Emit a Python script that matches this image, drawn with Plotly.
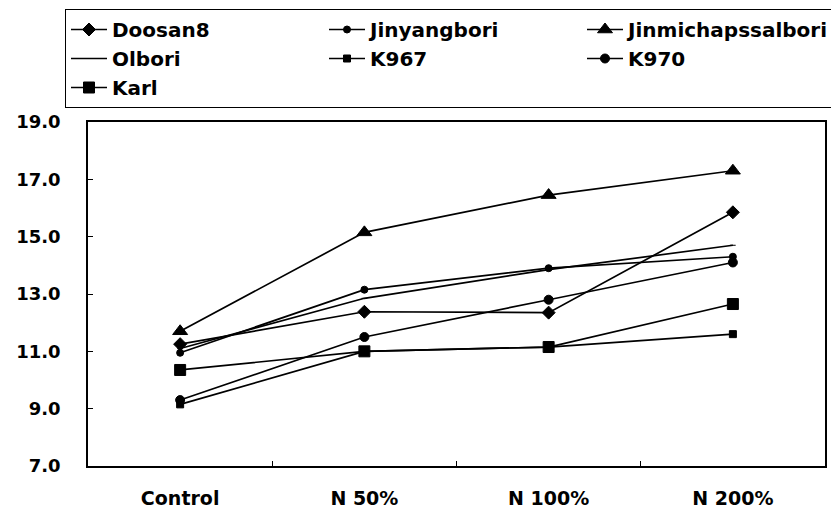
import plotly.graph_objects as go

categories = ["Control", "N 50%", "N 100%", "N 200%"]
doosan8 = [11.25, 12.38, 12.35, 15.85]
jinyangbori = [10.95, 13.15, 13.9, 14.3]
jinmichapssalbori = [11.7, 15.15, 16.45, 17.3]
olbori = [11.1, 12.85, 13.85, 14.7]
k967 = [9.15, 11.0, 11.15, 11.6]
k970 = [9.3, 11.5, 12.8, 14.1]
karl = [10.35, 11.0, 11.15, 12.65]

series = [
    ("Doosan8", doosan8, "diamond", 10),
    ("Jinyangbori", jinyangbori, "circle", 7),
    ("Jinmichapssalbori", jinmichapssalbori, "triangle-up", 13),
    ("Olbori", olbori, "line-ew", 4),
    ("K967", k967, "square", 7),
    ("K970", k970, "circle", 9),
    ("Karl", karl, "square", 11),
]

fig = go.Figure()
for name, vals, sym, size in series:
    fig.add_trace(go.Scatter(
        x=categories, y=vals, name=name, mode="lines+markers",
        line=dict(color="black", width=1.7),
        marker=dict(symbol=sym, size=size, color="black",
                    line=dict(color="black", width=1)),
    ))

# the page body adds an 8px offset, so the figure is 8px smaller
W, H = 831, 500
L, R, T, B = 80, 14, 114, 42
pw = W - L - R
ph = H - T - B
font_family = "DejaVu Sans, sans-serif"
fig.update_layout(
    width=W, height=H,
    margin=dict(l=L, r=R, t=T, b=B, autoexpand=False),
    paper_bgcolor="white", plot_bgcolor="white",
    font=dict(family=font_family, color="black", size=18),
    showlegend=True,
    legend=dict(
        orientation="h",
        x=(57 - L) / pw, y=1 + (T - 1) / ph, xanchor="left", yanchor="top",
        entrywidth=207, entrywidthmode="pixels",
        bordercolor="black", borderwidth=1,
        font=dict(size=20, family=font_family, weight="bold"),
        itemwidth=36, tracegroupgap=0,
    ),
    xaxis=dict(
        type="category", range=[-0.5, 3.5],
        showline=True, linecolor="black", linewidth=1.5, mirror=True,
        ticks="inside", ticklen=5, tickcolor="black", tickson="boundaries",
        showgrid=False, zeroline=False,
        tickfont=dict(size=19, family=font_family, weight="bold"),
        ticklabelstandoff=14,
    ),
    yaxis=dict(
        range=[7, 19], dtick=2, tick0=7, tickformat=".1f",
        showline=True, linecolor="black", linewidth=1.5, mirror=True,
        ticks="inside", ticklen=5, tickcolor="black",
        showgrid=False, zeroline=False,
        tickfont=dict(size=18, family=font_family, weight="bold"),
        ticklabelstandoff=22,
    ),
)

fig.write_html("out.html")
